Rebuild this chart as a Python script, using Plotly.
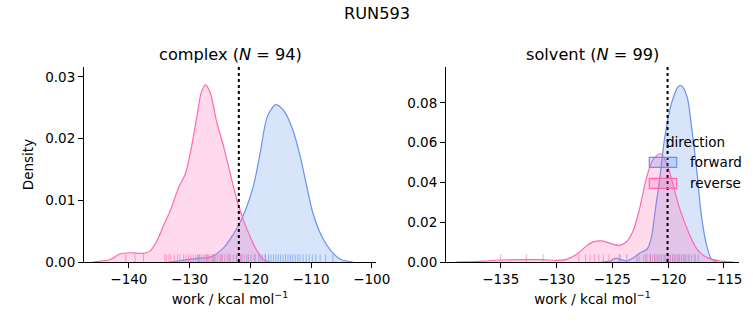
import plotly.graph_objects as go

# ---------------- data ----------------
complex_rev_x = [-145.9, -143.1, -141.5, -139.8, -137.6, -136.5, -135.4, -134.3, -133.2, -131.8,
                 -130.7, -129.9, -128.8, -128.1, -127.4, -126.6, -125.5, -124.4, -123.3, -122.2,
                 -121.1, -120.0, -118.9, -117.8, -116.7]
complex_rev_y = [0.0, 0.0004, 0.0013, 0.0015, 0.0014, 0.0018, 0.0034, 0.0059, 0.0083, 0.0121,
                 0.0143, 0.0176, 0.0236, 0.0274, 0.0287, 0.0274, 0.0225, 0.0187, 0.0143, 0.0100,
                 0.0067, 0.0040, 0.0018, 0.0004, 0.0]
complex_fwd_x = [-133.2, -131.0, -128.8, -126.6, -124.4, -122.8, -121.7, -120.6, -119.4, -118.3,
                 -117.2, -115.8, -114.4, -113.0, -111.9, -110.8, -109.8, -108.4, -106.7, -105.1, -103.1]
complex_fwd_y = [0.0, 0.0003, 0.0006, 0.0008, 0.0023, 0.0045, 0.0064, 0.0089, 0.0127, 0.0181,
                 0.0236, 0.0255, 0.0244, 0.0214, 0.0176, 0.0127, 0.0083, 0.0045, 0.0018, 0.0004, 0.0]

solvent_rev_x = [-139.0, -136.9, -135.1, -132.7, -131.2, -130.0, -129.1, -128.2, -127.3, -126.7,
                 -125.9, -125.2, -124.4, -123.8, -123.2, -122.6, -122.0, -121.4, -120.7, -120.1,
                 -119.5, -118.9, -118.1, -117.4, -116.5, -115.3, -114.1]
solvent_rev_y = [0.0, 0.0003, 0.0010, 0.0012, 0.0012, 0.0008, 0.0013, 0.0039, 0.0081, 0.0101,
                 0.0106, 0.0094, 0.0084, 0.0098, 0.0148, 0.0258, 0.0409, 0.0510, 0.0544, 0.0493,
                 0.0376, 0.0258, 0.0140, 0.0064, 0.0022, 0.0005, 0.0]
solvent_fwd_x = [-126.0, -125.2, -124.7, -124.3, -123.7, -123.1, -122.5, -121.9, -121.5, -121.2,
                 -120.7, -120.3, -119.7, -119.1, -118.8, -118.3, -117.9, -117.4, -117.0, -116.5,
                 -116.1, -115.6]
solvent_fwd_y = [0.0, 0.0005, 0.0019, 0.0013, 0.0005, 0.0022, 0.0047, 0.0064, 0.0123, 0.0241,
                 0.0443, 0.0628, 0.0797, 0.0881, 0.0886, 0.0830, 0.0679, 0.0443, 0.0224, 0.0072,
                 0.0013, 0.0]

complex_rev_rug = [-140.5, -139.0, -137.6, -134.1, -133.8, -133.4, -133.1, -132.5, -132.0, -131.6,
                   -131.0, -130.6, -130.2, -129.8, -129.4, -129.0, -128.7, -128.4, -128.1, -127.8,
                   -127.5, -127.2, -127.0, -126.8, -126.5, -126.2, -126.0, -125.7, -125.4, -125.0,
                   -124.6, -124.2, -123.8, -123.3, -122.8, -122.2, -121.6, -121.0, -120.3, -119.4,
                   -118.3, -117.6]
complex_fwd_rug = [-128.5, -127.2, -126.0, -124.8, -123.5, -122.3, -121.4, -120.6, -119.9, -119.2,
                   -118.6, -118.0, -117.5, -117.0, -116.6, -116.2, -115.8, -115.4, -115.0, -114.6,
                   -114.2, -113.8, -113.4, -113.0, -112.6, -112.2, -111.8, -111.3, -110.8, -110.3,
                   -109.8, -109.2, -108.5, -107.6, -106.4]
solvent_rev_rug = [-135.0, -132.7, -131.2, -128.0, -127.4, -127.0, -126.6, -126.2, -125.8, -125.3,
                   -124.4, -122.6, -122.2, -121.9, -121.6, -121.4, -121.2, -121.0, -120.8, -120.6,
                   -120.4, -120.2, -120.0, -119.8, -119.6, -119.4, -119.1, -118.8, -118.5, -118.1,
                   -117.6]
solvent_fwd_rug = [-124.3, -123.7, -122.8, -122.0, -121.6, -121.2, -120.9, -120.6, -120.3, -120.0,
                   -119.8, -119.6, -119.4, -119.2, -119.0, -118.8, -118.6, -118.4, -118.2, -117.9,
                   -117.6, -117.3]

complex_dg = -121.9
solvent_dg = -120.05

complex_xticks = [-140, -130, -120, -110, -100]
complex_yticks = [0.0, 0.01, 0.02, 0.03]
solvent_xticks = [-135, -130, -125, -120, -115]
solvent_yticks = [0.0, 0.02, 0.04, 0.06, 0.08]

legend_title = "direction"
legend_names = ["forward", "reverse"]

# ---------------- styling ----------------
BLUE = "#6495ED"
PINK = "#FF69B4"
BLUE_F = "rgba(100,149,237,0.25)"
PINK_F = "rgba(255,105,180,0.25)"
FONT = "DejaVu Sans"
TICK = 13.5
TITLE = 16.2

# plot area in pixels: x 84..739, y 67..262
L, R, T, B = 84, 14, 67, 63
W, H = 753 - L - R, 325 - T - B

def px_x(p):
    return (p - L) / W

def px_y(p):
    return (325 - B - p) / H

fig = go.Figure()

def add_panel(xa, ya, fwd_x, fwd_y, rev_x, rev_y, fwd_rug, rev_rug):
    fig.add_trace(go.Scatter(x=fwd_x, y=fwd_y, mode="lines",
                             line=dict(color=BLUE, width=1.2, shape="spline", smoothing=0.8),
                             fill="toself", fillcolor=BLUE_F, name=legend_names[0],
                             showlegend=False, xaxis=xa, yaxis=ya))
    fig.add_trace(go.Scatter(x=rev_x, y=rev_y, mode="lines",
                             line=dict(color=PINK, width=1.2, shape="spline", smoothing=0.8),
                             fill="toself", fillcolor=PINK_F, name=legend_names[1],
                             showlegend=False, xaxis=xa, yaxis=ya))
    for vals, col in ((fwd_rug, "rgba(100,149,237,0.6)"), (rev_rug, "rgba(255,105,180,0.6)")):
        fig.add_trace(go.Scatter(x=vals, y=[0] * len(vals), mode="markers",
                                 marker=dict(symbol="line-ns", size=11, line=dict(color=col, width=1)),
                                 showlegend=False, hoverinfo="skip", xaxis=xa, yaxis=ya, cliponaxis=True))

add_panel("x", "y", complex_fwd_x, complex_fwd_y, complex_rev_x, complex_rev_y,
          complex_fwd_rug, complex_rev_rug)
add_panel("x2", "y2", solvent_fwd_x, solvent_fwd_y, solvent_rev_x, solvent_rev_y,
          solvent_fwd_rug, solvent_rev_rug)

for dg, xr, yr in ((complex_dg, "x", "y domain"), (solvent_dg, "x2", "y2 domain")):
    fig.add_shape(type="line", x0=dg, x1=dg, y0=0, y1=1, xref=xr, yref=yr,
                  line=dict(color="black", width=2, dash="dot"))

# legend (matplotlib-style patches, drawn in paper space)
annotations = []
for i, (name, edge, face) in enumerate(zip(legend_names, (BLUE, PINK), (BLUE_F, PINK_F))):
    top = 157.3 + 21 * i
    fig.add_shape(type="rect", xref="paper", yref="paper",
                  x0=px_x(649.3), x1=px_x(676.7), y0=px_y(top + 10), y1=px_y(top),
                  fillcolor=face, line=dict(color=edge, width=1.2), layer="above")
    annotations.append(dict(text=name, x=px_x(688), y=px_y(top + 4.5), xref="paper", yref="paper",
                            showarrow=False, xanchor="left", yanchor="middle",
                            font=dict(family=FONT, size=TICK, color="black")))
annotations.append(dict(text=legend_title, x=px_x(695), y=px_y(141.5), xref="paper", yref="paper",
                        showarrow=False, xanchor="center", yanchor="middle",
                        font=dict(family=FONT, size=TICK, color="black")))

axis_common = dict(showline=True, linecolor="black", linewidth=1, ticks="outside", ticklen=5,
                   tickcolor="black", showgrid=False, zeroline=False, mirror=False, automargin=False,
                   tickfont=dict(family=FONT, size=TICK, color="black"))
xtitle = dict(text="work / kcal mol<sup>−1</sup>", font=dict(family=FONT, size=TICK, color="black"), standoff=8)

dom1 = [0.0, px_x(376)]
dom2 = [px_x(446), 1.0]

annotations += [
    dict(text="RUN593", x=px_x(376.5), y=px_y(13), xref="paper", yref="paper", showarrow=False,
         font=dict(family=FONT, size=TITLE, color="black"), xanchor="center", yanchor="middle"),
    dict(text="complex (<i>N</i> = 94)", x=sum(dom1) / 2, y=px_y(54), xref="paper", yref="paper",
         showarrow=False, font=dict(family=FONT, size=TITLE, color="black"), xanchor="center", yanchor="middle"),
    dict(text="solvent (<i>N</i> = 99)", x=sum(dom2) / 2, y=px_y(54), xref="paper", yref="paper",
         showarrow=False, font=dict(family=FONT, size=TITLE, color="black"), xanchor="center", yanchor="middle"),
]

fig.update_layout(
    width=753, height=325, margin=dict(l=L, r=R, t=T, b=B, autoexpand=False),
    paper_bgcolor="white", plot_bgcolor="white",
    font=dict(family=FONT, color="black"),
    showlegend=False,
    xaxis=dict(domain=dom1, range=[-147.4, -99.3], tickvals=complex_xticks,
               title=xtitle, anchor="y", **axis_common),
    yaxis=dict(domain=[0, 1], range=[0, 0.0316], tickvals=complex_yticks, tickformat=".2f",
               title=dict(text="Density", font=dict(family=FONT, size=TICK, color="black"), standoff=8),
               anchor="x", **axis_common),
    xaxis2=dict(domain=dom2, range=[-139.9, -113.65], tickvals=solvent_xticks,
                title=xtitle, anchor="y2", **axis_common),
    yaxis2=dict(domain=[0, 1], range=[0, 0.098], tickvals=solvent_yticks, tickformat=".2f",
                anchor="x2", **axis_common),
    annotations=annotations,
)

fig.write_html("out.html")
